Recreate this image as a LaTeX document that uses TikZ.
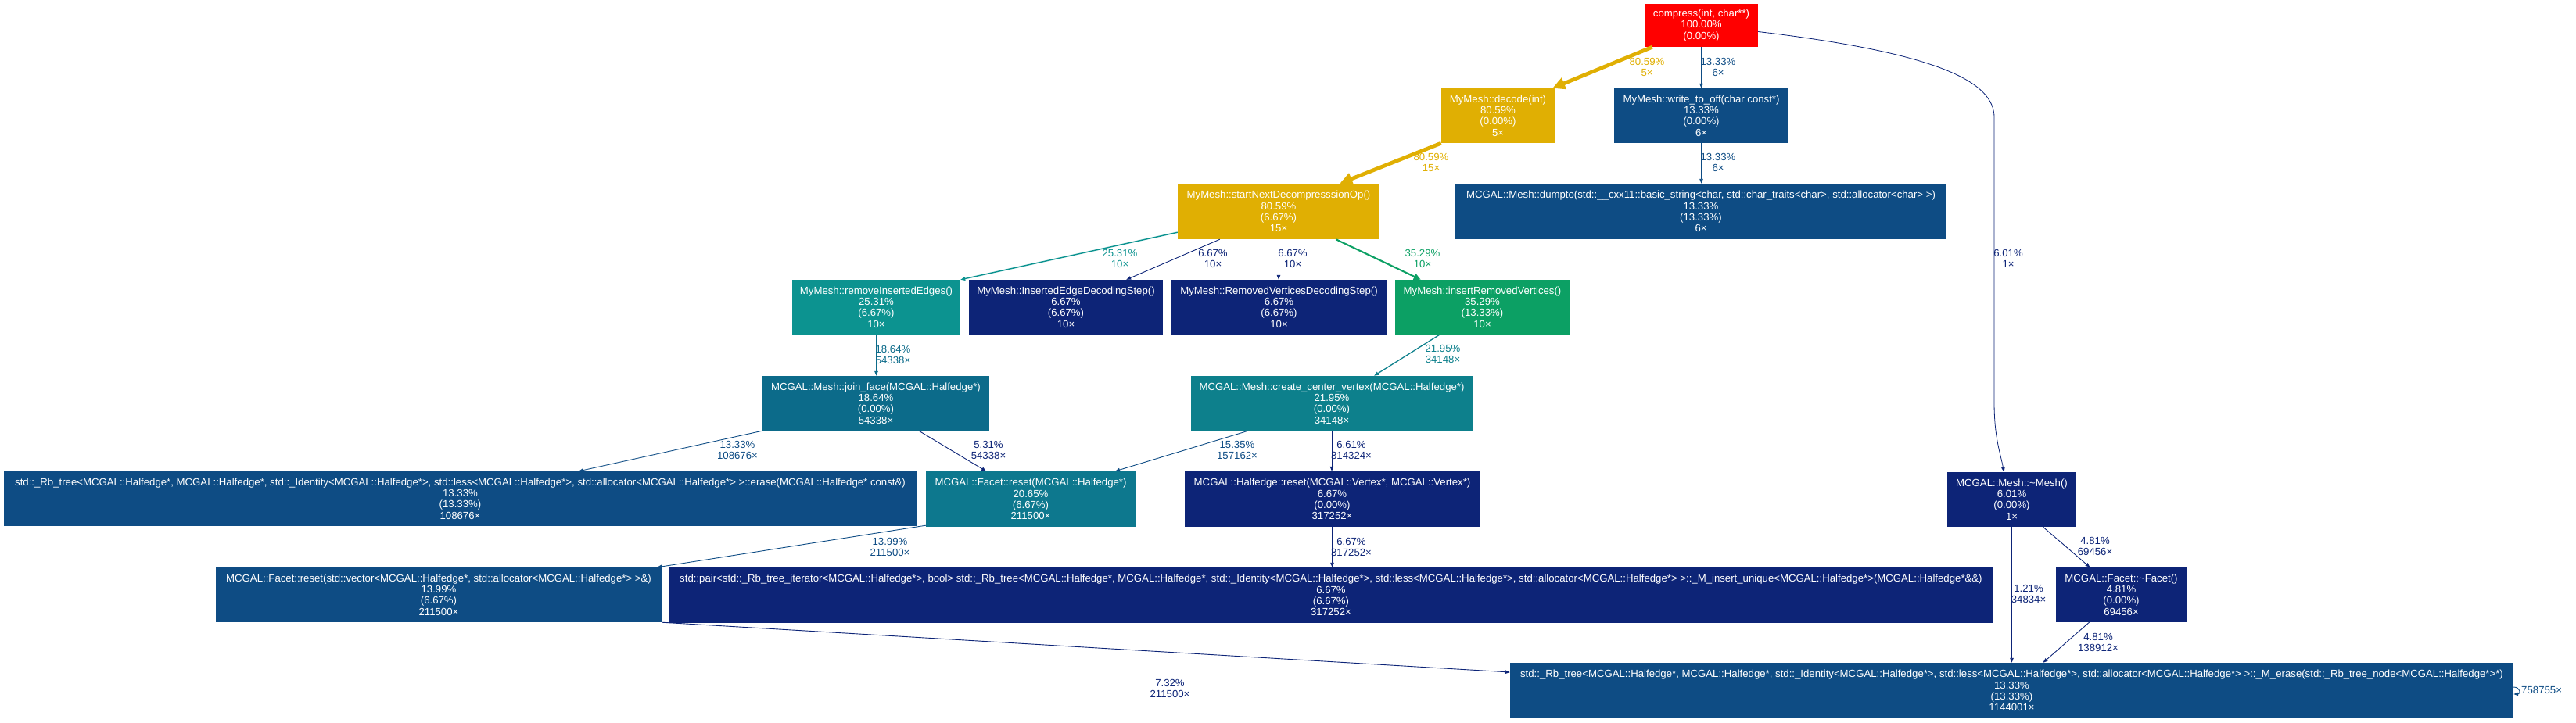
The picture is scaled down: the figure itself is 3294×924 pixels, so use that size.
\documentclass[tikz,border=0pt]{standalone}
\usepackage{fontspec}
\setmainfont{Liberation Sans}
\usetikzlibrary{arrows.meta}
\definecolor{cred}{RGB}{255,0,0}
\definecolor{cgold}{RGB}{224,175,3}
\definecolor{csteel}{RGB}{14,76,132}
\definecolor{cnavy}{RGB}{13,36,119}
\definecolor{cteal}{RGB}{12,147,144}
\definecolor{cgreen}{RGB}{12,160,100}
\definecolor{cjoin}{RGB}{12,107,138}
\definecolor{ccreate}{RGB}{13,128,140}
\definecolor{cfr}{RGB}{13,120,142}
\newcommand{\nf}{\fontsize{13.2}{14.4}\selectfont}
\begin{document}
\begin{tikzpicture}[x=1pt,y=-1pt,
  fn/.style={rectangle, inner sep=0pt, align=center, text=white, font=\nf, fill=#1},
  el/.style={inner sep=0pt, align=center, font=\nf, text=#1},
  ed/.style={draw=#1, line width=0.9pt, -{Triangle[length=6pt,width=4.5pt]}},
  goldedge/.style={draw=cgold, line width=4.8pt, -{Triangle[length=16pt,width=15pt]}},
  greenedge/.style={draw=cgreen, line width=2.1pt, -{Triangle[length=9pt,width=8pt]}}]
\useasboundingbox (0,0) rectangle (3294,924);
% nodes
\node[fn=cred, minimum width=145pt, minimum height=55pt] (compress) at (2175.5,32.5) {compress(int, char**)\\100.00\%\\(0.00\%)};
\node[fn=cgold, minimum width=145pt, minimum height=70pt] (decode) at (1915.5,148) {MyMesh::decode(int)\\80.59\%\\(0.00\%)\\5×};
\node[fn=csteel, minimum width=223pt, minimum height=70pt] (write) at (2175.5,148) {MyMesh::write\_to\_off(char const*)\\13.33\%\\(0.00\%)\\6×};
\node[fn=csteel, minimum width=628pt, minimum height=71pt] (dumpto) at (2175,270.5) {MCGAL::Mesh::dumpto(std::\_\_cxx11::basic\_string<char, std::char\_traits<char>, std::allocator<char> >)\\13.33\%\\(13.33\%)\\6×};
\node[fn=cgold, minimum width=258pt, minimum height=71pt] (startNext) at (1635,270.5) {MyMesh::startNextDecompresssionOp()\\80.59\%\\(6.67\%)\\15×};
\node[fn=cteal, minimum width=215pt, minimum height=70pt] (removeIE) at (1120.5,393) {MyMesh::removeInsertedEdges()\\25.31\%\\(6.67\%)\\10×};
\node[fn=cnavy, minimum width=248pt, minimum height=70pt] (IE) at (1363,393) {MyMesh::InsertedEdgeDecodingStep()\\6.67\%\\(6.67\%)\\10×};
\node[fn=cnavy, minimum width=275pt, minimum height=70pt] (RV) at (1635.5,393) {MyMesh::RemovedVerticesDecodingStep()\\6.67\%\\(6.67\%)\\10×};
\node[fn=cgreen, minimum width=223pt, minimum height=70pt] (IR) at (1895.5,393) {MyMesh::insertRemovedVertices()\\35.29\%\\(13.33\%)\\10×};
\node[fn=cjoin, minimum width=290pt, minimum height=70pt] (join) at (1120,516) {MCGAL::Mesh::join\_face(MCGAL::Halfedge*)\\18.64\%\\(0.00\%)\\54338×};
\node[fn=ccreate, minimum width=360pt, minimum height=70pt] (create) at (1703,516) {MCGAL::Mesh::create\_center\_vertex(MCGAL::Halfedge*)\\21.95\%\\(0.00\%)\\34148×};
\node[fn=csteel, minimum width=1167pt, minimum height=70pt] (erase) at (588.5,638) {std::\_Rb\_tree<MCGAL::Halfedge*, MCGAL::Halfedge*, std::\_Identity<MCGAL::Halfedge*>, std::less<MCGAL::Halfedge*>, std::allocator<MCGAL::Halfedge*> >::erase(MCGAL::Halfedge* const\&)\\13.33\%\\(13.33\%)\\108676×};
\node[fn=cfr, minimum width=268pt, minimum height=71pt] (FR) at (1318,638.5) {MCGAL::Facet::reset(MCGAL::Halfedge*)\\20.65\%\\(6.67\%)\\211500×};
\node[fn=cnavy, minimum width=377pt, minimum height=71pt] (HR) at (1703.5,638.5) {MCGAL::Halfedge::reset(MCGAL::Vertex*, MCGAL::Vertex*)\\6.67\%\\(0.00\%)\\317252×};
\node[fn=cnavy, minimum width=165pt, minimum height=70pt] (Mesh) at (2572.5,639) {MCGAL::Mesh::\textasciitilde Mesh()\\6.01\%\\(0.00\%)\\1×};
\node[fn=csteel, minimum width=570pt, minimum height=70pt] (FRV) at (561,761) {MCGAL::Facet::reset(std::vector<MCGAL::Halfedge*, std::allocator<MCGAL::Halfedge*> >\&)\\13.99\%\\(6.67\%)\\211500×};
\node[fn=cnavy, minimum width=1694pt, minimum height=71pt] (pair) at (1702,761.5) {std::pair<std::\_Rb\_tree\_iterator<MCGAL::Halfedge*>, bool> std::\_Rb\_tree<MCGAL::Halfedge*, MCGAL::Halfedge*, std::\_Identity<MCGAL::Halfedge*>, std::less<MCGAL::Halfedge*>, std::allocator<MCGAL::Halfedge*> >::\_M\_insert\_unique<MCGAL::Halfedge*>(MCGAL::Halfedge*\&\&)\\6.67\%\\(6.67\%)\\317252×};
\node[fn=cnavy, minimum width=167pt, minimum height=70pt] (Facet) at (2712.5,761) {MCGAL::Facet::\textasciitilde Facet()\\4.81\%\\(0.00\%)\\69456×};
\node[fn=csteel, minimum width=1283pt, minimum height=71pt] (ME) at (2572.5,883.5) {std::\_Rb\_tree<MCGAL::Halfedge*, MCGAL::Halfedge*, std::\_Identity<MCGAL::Halfedge*>, std::less<MCGAL::Halfedge*>, std::allocator<MCGAL::Halfedge*> >::\_M\_erase(std::\_Rb\_tree\_node<MCGAL::Halfedge*>*)\\13.33\%\\(13.33\%)\\1144001×};
% edges
\draw[goldedge] ([xshift=10pt]compress.south west) -- ([xshift=-3pt]decode.north east);
\draw[goldedge] (decode.south west) -- ([xshift=-51pt]startNext.north east);
\draw[ed=csteel] (compress.south) -- (write.north);
\draw[ed=csteel] (write.south) -- (write.south |- dumpto.north);
\draw[ed=cnavy, line width=0.8pt] ([yshift=-8pt]compress.east) .. controls (2480,68) and (2550,105) .. (2550,150) -- (2550,515) .. controls (2550,560) and (2558,580) .. ([xshift=-10pt]Mesh.north);
\draw[ed=cteal, line width=1.5pt] ([yshift=9pt]startNext.south west) -- (removeIE.north east);
\draw[ed=cnavy] ([xshift=54pt]startNext.south west) -- ([xshift=-47pt]IE.north east);
\draw[ed=cnavy] (startNext.south) -- (startNext.south |- RV.north);
\draw[greenedge] ([xshift=-56pt]startNext.south east) -- ([xshift=33pt]IR.north west);
\draw[ed=cjoin, line width=1.1pt] (removeIE.south) -- (removeIE.south |- join.north);
\draw[ed=ccreate, line width=1.3pt] ([xshift=57pt]IR.south west) -- ([xshift=54pt]create.north);
\draw[ed=csteel] (join.south west) -- ([xshift=151.5pt]erase.north);
\draw[ed=cnavy] ([xshift=55pt]join.south) -- ([xshift=-57pt]FR.north);
\draw[ed=csteel] ([xshift=-107pt]create.south) -- ([xshift=108pt]FR.north);
\draw[ed=cnavy] (create.south) -- (create.south |- HR.north);
\draw[ed=csteel] ([yshift=2pt]FR.south west) -- ([xshift=-6pt]FRV.north east);
\draw[ed=cnavy] (HR.south) -- (HR.south |- pair.north);
\draw[ed=cnavy] (FRV.south east) -- ([yshift=23.5pt]ME.west);
\draw[ed=cnavy] ([xshift=40pt]Mesh.south) -- ([xshift=-40pt]Facet.north);
\draw[ed=cnavy] (Mesh.south) -- (Mesh.south |- ME.north);
\draw[ed=cnavy] ([xshift=-41pt]Facet.south) -- ([xshift=40pt]ME.north);
\draw[ed=csteel] ([yshift=4.5pt]ME.east) .. controls +(9,0) and +(9,0) .. ([yshift=-4.5pt]ME.east);
% edge labels
\node[el=cgold] (l1) at (2106,86) {80.59\%\\5×};
\node[el=csteel] (l2) at (2197,86) {13.33\%\\6×};
\node[el=cnavy] (l3) at (2568,331) {6.01\%\\1×};
\node[el=cgold] (l4) at (1830,208) {80.59\%\\15×};
\node[el=csteel] (l5) at (2197,208) {13.33\%\\6×};
\node[el=cteal] (l6) at (1432,331) {25.31\%\\10×};
\node[el=cnavy] (l7) at (1551,331) {6.67\%\\10×};
\node[el=cnavy] (l8) at (1653,331) {6.67\%\\10×};
\node[el=cgreen] (l9) at (1819,331) {35.29\%\\10×};
\node[el=cjoin] (l10) at (1142,454) {18.64\%\\54338×};
\node[el=ccreate] (l11) at (1845,453) {21.95\%\\34148×};
\node[el=csteel] (l12) at (943,576) {13.33\%\\108676×};
\node[el=cnavy] (l13) at (1264,576) {5.31\%\\54338×};
\node[el=csteel] (l14) at (1582,576) {15.35\%\\157162×};
\node[el=cnavy] (l15) at (1728,576) {6.61\%\\314324×};
\node[el=csteel] (l16) at (1138,700) {13.99\%\\211500×};
\node[el=cnavy] (l17) at (1728,700) {6.67\%\\317252×};
\node[el=cnavy] (l18) at (2679,699) {4.81\%\\69456×};
\node[el=cnavy] (l19) at (2594,760) {1.21\%\\34834×};
\node[el=cnavy] (l20) at (2683,822) {4.81\%\\138912×};
\node[el=cnavy] (l21) at (1496,881) {7.32\%\\211500×};
\node[el=csteel, anchor=west] (l22) at (3224,883) {758755×};
\end{tikzpicture}
\end{document}
